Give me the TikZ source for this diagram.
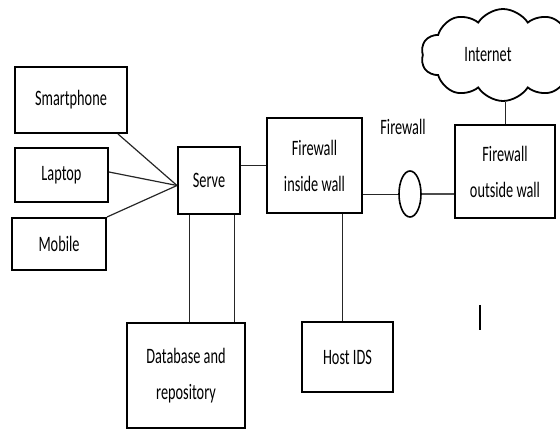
\documentclass[tikz,border=0pt]{standalone}
\usepackage{fontspec}
\setmainfont{Carlito}
\newfontfamily\diagfont[FakeStretch=0.65]{Carlito}
\usetikzlibrary{shapes.geometric,shapes.symbols,positioning}
\tikzset{
  label font/.style={font=\diagfont\fontsize{22}{36}\selectfont},
  unit/.style={draw=black,line width=2pt,inner sep=0pt,align=center,label font},
  link/.style={line width=0.8pt,draw=black!85}
}

\begin{document}
\begin{tikzpicture}[x=1pt,y=-1pt]
        \useasboundingbox (0,0) rectangle (560,430);

        %%% Clients %%%
        \node[unit,minimum width=112pt,minimum height=66pt] (smart) at (71,100) {Smartphone};
        \node[unit,minimum width=93pt,minimum height=54pt] (laptop) at (61.5,175) {Laptop};
        \node[unit,minimum width=94pt,minimum height=52pt] (mobile) at (59,244) {Mobile};

        %%% Server %%%
        \node[unit,minimum width=62pt,minimum height=67pt] (serve) at (209,180.5) {Serve};
        \coordinate (hub) at ([yshift=-5pt]serve.west);
        \draw[link,line width=1.2pt] ([xshift=-10pt]smart.south east)--(hub);
        \draw[link,line width=1.2pt] ([yshift=3pt]laptop.east)--(hub);
        \draw[link,line width=1.2pt] (mobile.north east)--(hub);

        %%% Database %%%
        \node[unit,minimum width=118pt,minimum height=105pt] (db) at (186,375.5) {Database and\\repository};
        \draw[link] ([xshift=12pt]serve.south west)--([xshift=12pt]serve.south west |- db.north);
        \draw[link] ([xshift=-7pt]serve.south east)--([xshift=-7pt]serve.south east |- db.north);

        %%% Walls %%%
        \node[unit,minimum width=95pt,minimum height=95pt] (inwall) at (314.5,165.5) {Firewall\\inside wall};
        \node[unit,minimum width=100pt,minimum height=93pt] (outwall) at (505,171.5) {Firewall\\outside wall};
        \node[ellipse,draw=black,line width=1.6pt,minimum width=22pt,minimum height=46pt,inner sep=0pt] (fw) at (410,194) {};
        \node[label font] (fwlabel) at (403,127) {Firewall};
        \draw[link] (inwall.west)--(inwall.west -| serve.east);
        \draw[link] (inwall.east |- fw.west)--(fw.west);
        \draw[link,line width=1.4pt,draw=black!70] (fw.east)--(fw.east -| outwall.west);

        %%% Host IDS %%%
        \node[unit,minimum width=91pt,minimum height=70pt] (hids) at (347.5,357) {Host IDS};
        \draw[link] ([xshift=28pt]inwall.south)--([xshift=28pt]inwall.south |- hids.north);

        %%% Internet %%%
        \node[cloud,draw=black,line width=1.8pt,cloud puffs=10,cloud puff arc=115,minimum width=164pt,minimum height=92pt,inner sep=0pt,label font] (cloud) at (503,55) {\hspace*{-30pt}Internet};
        \draw[link] (outwall.north)--(outwall.north |- cloud.south);

        %%% stray mark %%%
        \draw[line width=1.6pt] (480,305)--(480,330);
\end{tikzpicture}
\end{document}
